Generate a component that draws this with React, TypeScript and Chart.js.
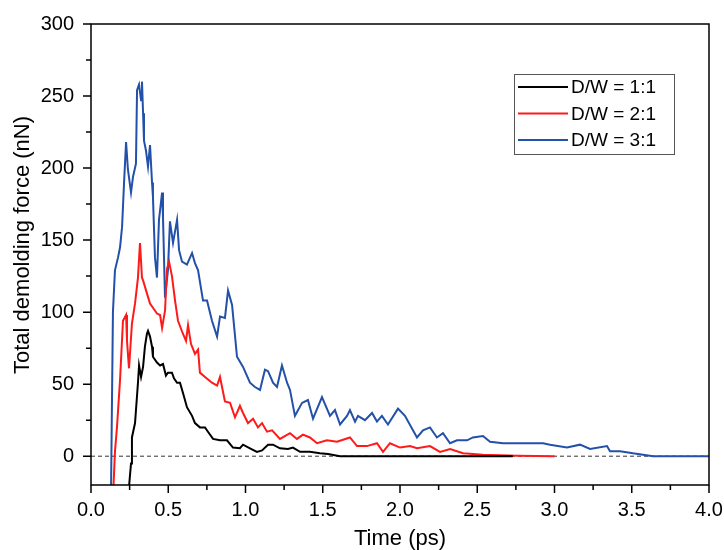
import { useEffect, useRef } from "react";
import { Chart, registerables } from "chart.js";

Chart.register(...registerables);

const seriesLabels = ["D/W = 1:1", "D/W = 2:1", "D/W = 3:1"];
const seriesColors = ["#000000", "#ff1a1a", "#2350a8"];
const xTitle = "Time (ps)";
const yTitle = "Total demolding force (nN)";

const xTicks = [0, 0.5, 1.0, 1.5, 2.0, 2.5, 3.0, 3.5, 4.0];
const yTicks = [0, 50, 100, 150, 200, 250, 300];

const time11 = [0.239, 0.259, 0.265, 0.285, 0.304, 0.311, 0.324, 0.337, 0.349, 0.362, 0.369, 0.382, 0.395, 0.401, 0.427, 0.447, 0.466, 0.485, 0.498, 0.524, 0.537, 0.557, 0.576, 0.595, 0.621, 0.654, 0.673, 0.705, 0.738, 0.757, 0.790, 0.835, 0.880, 0.919, 0.964, 0.984, 1.029, 1.074, 1.107, 1.146, 1.178, 1.223, 1.275, 1.307, 1.353, 1.417, 1.482, 1.534, 1.612, 2.73];
const force11 = [-30, -5, 13, 23, 51, 63, 55, 62, 76, 85, 87, 83, 76, 69, 65, 63, 64, 56, 58, 58, 54, 51, 51, 44, 34, 28, 23, 20, 20, 17, 12, 11, 11, 6, 5.5, 8, 5.5, 3, 4, 8, 8, 5.5, 5, 6, 3, 3, 2, 1.5, 0, 0];

const time21 = [0.142, 0.155, 0.168, 0.188, 0.207, 0.227, 0.233, 0.246, 0.265, 0.285, 0.304, 0.317, 0.330, 0.337, 0.362, 0.382, 0.401, 0.427, 0.447, 0.460, 0.479, 0.492, 0.505, 0.524, 0.544, 0.563, 0.595, 0.615, 0.628, 0.647, 0.673, 0.693, 0.705, 0.738, 0.783, 0.816, 0.835, 0.867, 0.900, 0.932, 0.964, 0.984, 1.016, 1.049, 1.081, 1.107, 1.139, 1.172, 1.223, 1.288, 1.333, 1.372, 1.417, 1.463, 1.527, 1.592, 1.676, 1.722, 1.786, 1.851, 1.890, 1.935, 2.0, 2.065, 2.110, 2.194, 2.259, 2.324, 2.408, 2.537, 2.757, 3.0];
const force21 = [-30, 3, 20, 53, 94, 98, 80, 61, 92, 106, 124, 148, 124, 122, 113, 106, 103, 99, 98, 89, 101, 130, 135, 125, 108, 94, 85, 80, 91, 78, 71, 74, 58, 55, 51, 49, 55, 38, 37, 27, 35, 30, 23, 26, 20, 23, 17, 18, 12, 16, 12, 15, 13, 9, 11, 10, 13, 7, 7, 9, 3, 9, 6, 7, 5.5, 7, 3, 5, 2, 1, 0.3, 0];

const time31 = [0.129, 0.142, 0.155, 0.175, 0.188, 0.201, 0.214, 0.227, 0.239, 0.259, 0.272, 0.291, 0.298, 0.311, 0.324, 0.330, 0.337, 0.343, 0.356, 0.369, 0.382, 0.395, 0.401, 0.414, 0.427, 0.440, 0.460, 0.466, 0.479, 0.498, 0.511, 0.531, 0.557, 0.570, 0.589, 0.621, 0.654, 0.673, 0.693, 0.725, 0.751, 0.783, 0.816, 0.835, 0.867, 0.887, 0.913, 0.945, 0.984, 1.029, 1.061, 1.094, 1.126, 1.146, 1.178, 1.204, 1.236, 1.269, 1.288, 1.320, 1.366, 1.404, 1.437, 1.495, 1.547, 1.579, 1.612, 1.657, 1.676, 1.709, 1.728, 1.773, 1.819, 1.851, 1.883, 1.922, 1.987, 2.032, 2.110, 2.149, 2.194, 2.239, 2.278, 2.324, 2.369, 2.434, 2.472, 2.537, 2.583, 2.667, 2.757, 2.861, 2.926, 2.971, 3.081, 3.165, 3.230, 3.340, 3.359, 3.424, 3.508, 3.638, 4.0];
const force31 = [-30, 100, 129, 138, 145, 159, 190, 218, 199, 183, 194, 203, 254, 258, 247, 260, 238, 219, 212, 201, 216, 190, 180, 138, 124, 164, 183, 166, 110, 129, 163, 148, 164, 143, 135, 133, 141, 134, 129, 108, 108, 94, 83, 97, 96, 115, 105, 69, 62, 51, 48, 46, 60, 59, 51, 48, 63, 51, 46, 28, 37, 39, 26, 41, 28, 32, 22, 28, 32, 24, 28, 25, 30, 24, 28, 22, 33, 28, 13, 18, 20, 13, 16, 9, 11, 11, 13, 14, 10, 9, 9, 9, 9, 8, 6, 8, 5, 7, 3.5, 3.5, 2, 0, 0];

const zeroLineX = [0, 4.0];
const zeroLineY = [0, 0];

const FONT = "'Liberation Sans', Arial, sans-serif";

function toPoints(xs: number[], ys: number[]) {
  return xs.map((x, i) => ({ x, y: ys[i] }));
}

const framePlugin = {
  id: "framePlugin",
  afterDraw(chart: any) {
    const { ctx, chartArea } = chart;
    const xs = chart.scales.x;
    const ys = chart.scales.y;
    ctx.save();
    ctx.strokeStyle = "#000";
    ctx.lineWidth = 1.5;
    ctx.strokeRect(chartArea.left, chartArea.top, chartArea.right - chartArea.left, chartArea.bottom - chartArea.top);
    ctx.beginPath();
    for (let i = 0; i < xTicks.length; i++) {
      const px = xs.getPixelForValue(xTicks[i]);
      ctx.moveTo(px, chartArea.bottom);
      ctx.lineTo(px, chartArea.bottom + 8);
      if (i < xTicks.length - 1) {
        const mx = xs.getPixelForValue((xTicks[i] + xTicks[i + 1]) / 2);
        ctx.moveTo(mx, chartArea.bottom);
        ctx.lineTo(mx, chartArea.bottom + 5);
      }
    }
    for (let i = 0; i < yTicks.length; i++) {
      const py = ys.getPixelForValue(yTicks[i]);
      ctx.moveTo(chartArea.left, py);
      ctx.lineTo(chartArea.left - 8, py);
      if (i < yTicks.length - 1) {
        const my = ys.getPixelForValue((yTicks[i] + yTicks[i + 1]) / 2);
        ctx.moveTo(chartArea.left, my);
        ctx.lineTo(chartArea.left - 5, my);
      }
    }
    ctx.stroke();

    // y axis title
    ctx.save();
    ctx.translate(23, chartArea.top + 221);
    ctx.rotate(-Math.PI / 2);
    ctx.font = `22px ${FONT}`;
    ctx.fillStyle = "#000";
    ctx.textAlign = "center";
    ctx.textBaseline = "middle";
    ctx.fillText(yTitle, 0, 0);
    ctx.restore();

    // legend box
    const bx = chartArea.right - 195;
    const by = chartArea.top + 50;
    const bw = 160;
    const bh = 80;
    ctx.fillStyle = "#fff";
    ctx.fillRect(bx, by, bw, bh);
    ctx.strokeStyle = "#555";
    ctx.lineWidth = 1;
    ctx.strokeRect(bx + 0.5, by + 0.5, bw, bh);
    ctx.font = `19px ${FONT}`;
    ctx.textBaseline = "middle";
    ctx.textAlign = "left";
    for (let i = 0; i < seriesLabels.length; i++) {
      const cy = by + 13 + i * 26.5;
      ctx.strokeStyle = seriesColors[i];
      ctx.lineWidth = 2;
      ctx.beginPath();
      ctx.moveTo(bx + 4, cy);
      ctx.lineTo(bx + 54, cy);
      ctx.stroke();
      ctx.fillStyle = "#000";
      ctx.fillText(seriesLabels[i], bx + 57, cy + 1);
    }
    ctx.restore();
  },
};

export default function App() {
  const canvasRef = useRef<HTMLCanvasElement | null>(null);

  useEffect(() => {
    document.body.style.margin = "0";
    const canvas = canvasRef.current;
    if (!canvas) return;
    const mk = (i: number, xs: number[], ys: number[]) => ({
      label: seriesLabels[i],
      data: toPoints(xs, ys),
      borderColor: seriesColors[i],
      borderWidth: 2,
      pointRadius: 0,
      tension: 0,
    });
    const datasets: any[] = [
      mk(0, time11, force11),
      mk(1, time21, force21),
      mk(2, time31, force31),
      {
        label: "zero",
        data: toPoints(zeroLineX, zeroLineY),
        borderColor: "#333",
        borderWidth: 1,
        borderDash: [4, 3],
        pointRadius: 0,
      },
    ];
    const chart = new Chart(canvas, {
      type: "line",
      data: { datasets },
      options: {
        animation: false,
        responsive: false,
        devicePixelRatio: 1,
        layout: { padding: { top: 24, right: 15, left: 0, bottom: 0 } },
        plugins: {
          legend: { display: false },
          tooltip: { enabled: false },
        },
        scales: {
          x: {
            type: "linear",
            min: 0,
            max: 4,
            grid: { display: false, drawTicks: false },
            border: { display: false },
            afterBuildTicks: (scale: any) => {
              scale.ticks = xTicks.map((v) => ({ value: v }));
            },
            afterFit: (scale: any) => {
              scale.height = 65;
              scale.paddingLeft = 0;
              scale.paddingRight = 0;
            },
            ticks: {
              padding: 13,
              color: "#000",
              font: { family: FONT, size: 20 },
              maxRotation: 0,
              autoSkip: false,
              callback: (v: any) => Number(v).toFixed(1),
            },
            title: {
              display: true,
              text: xTitle,
              color: "#000",
              font: { family: FONT, size: 22 },
              padding: { top: 0, bottom: -2 },
            },
          },
          y: {
            type: "linear",
            min: -20,
            max: 300,
            grid: { display: false, drawTicks: false },
            border: { display: false },
            afterBuildTicks: (scale: any) => {
              scale.ticks = yTicks.map((v) => ({ value: v }));
            },
            afterFit: (scale: any) => {
              scale.width = 91;
              scale.paddingTop = 0;
              scale.paddingBottom = 0;
            },
            ticks: {
              padding: 17,
              color: "#000",
              font: { family: FONT, size: 20 },
              autoSkip: false,
              callback: (v: any) => String(v),
            },
            title: { display: false },
          },
        },
      },
      plugins: [framePlugin],
    });
    return () => chart.destroy();
  }, []);

  return (
    <div style={{ width: 724, height: 550 }}>
      <canvas ref={canvasRef} width={724} height={550} />
    </div>
  );
}
